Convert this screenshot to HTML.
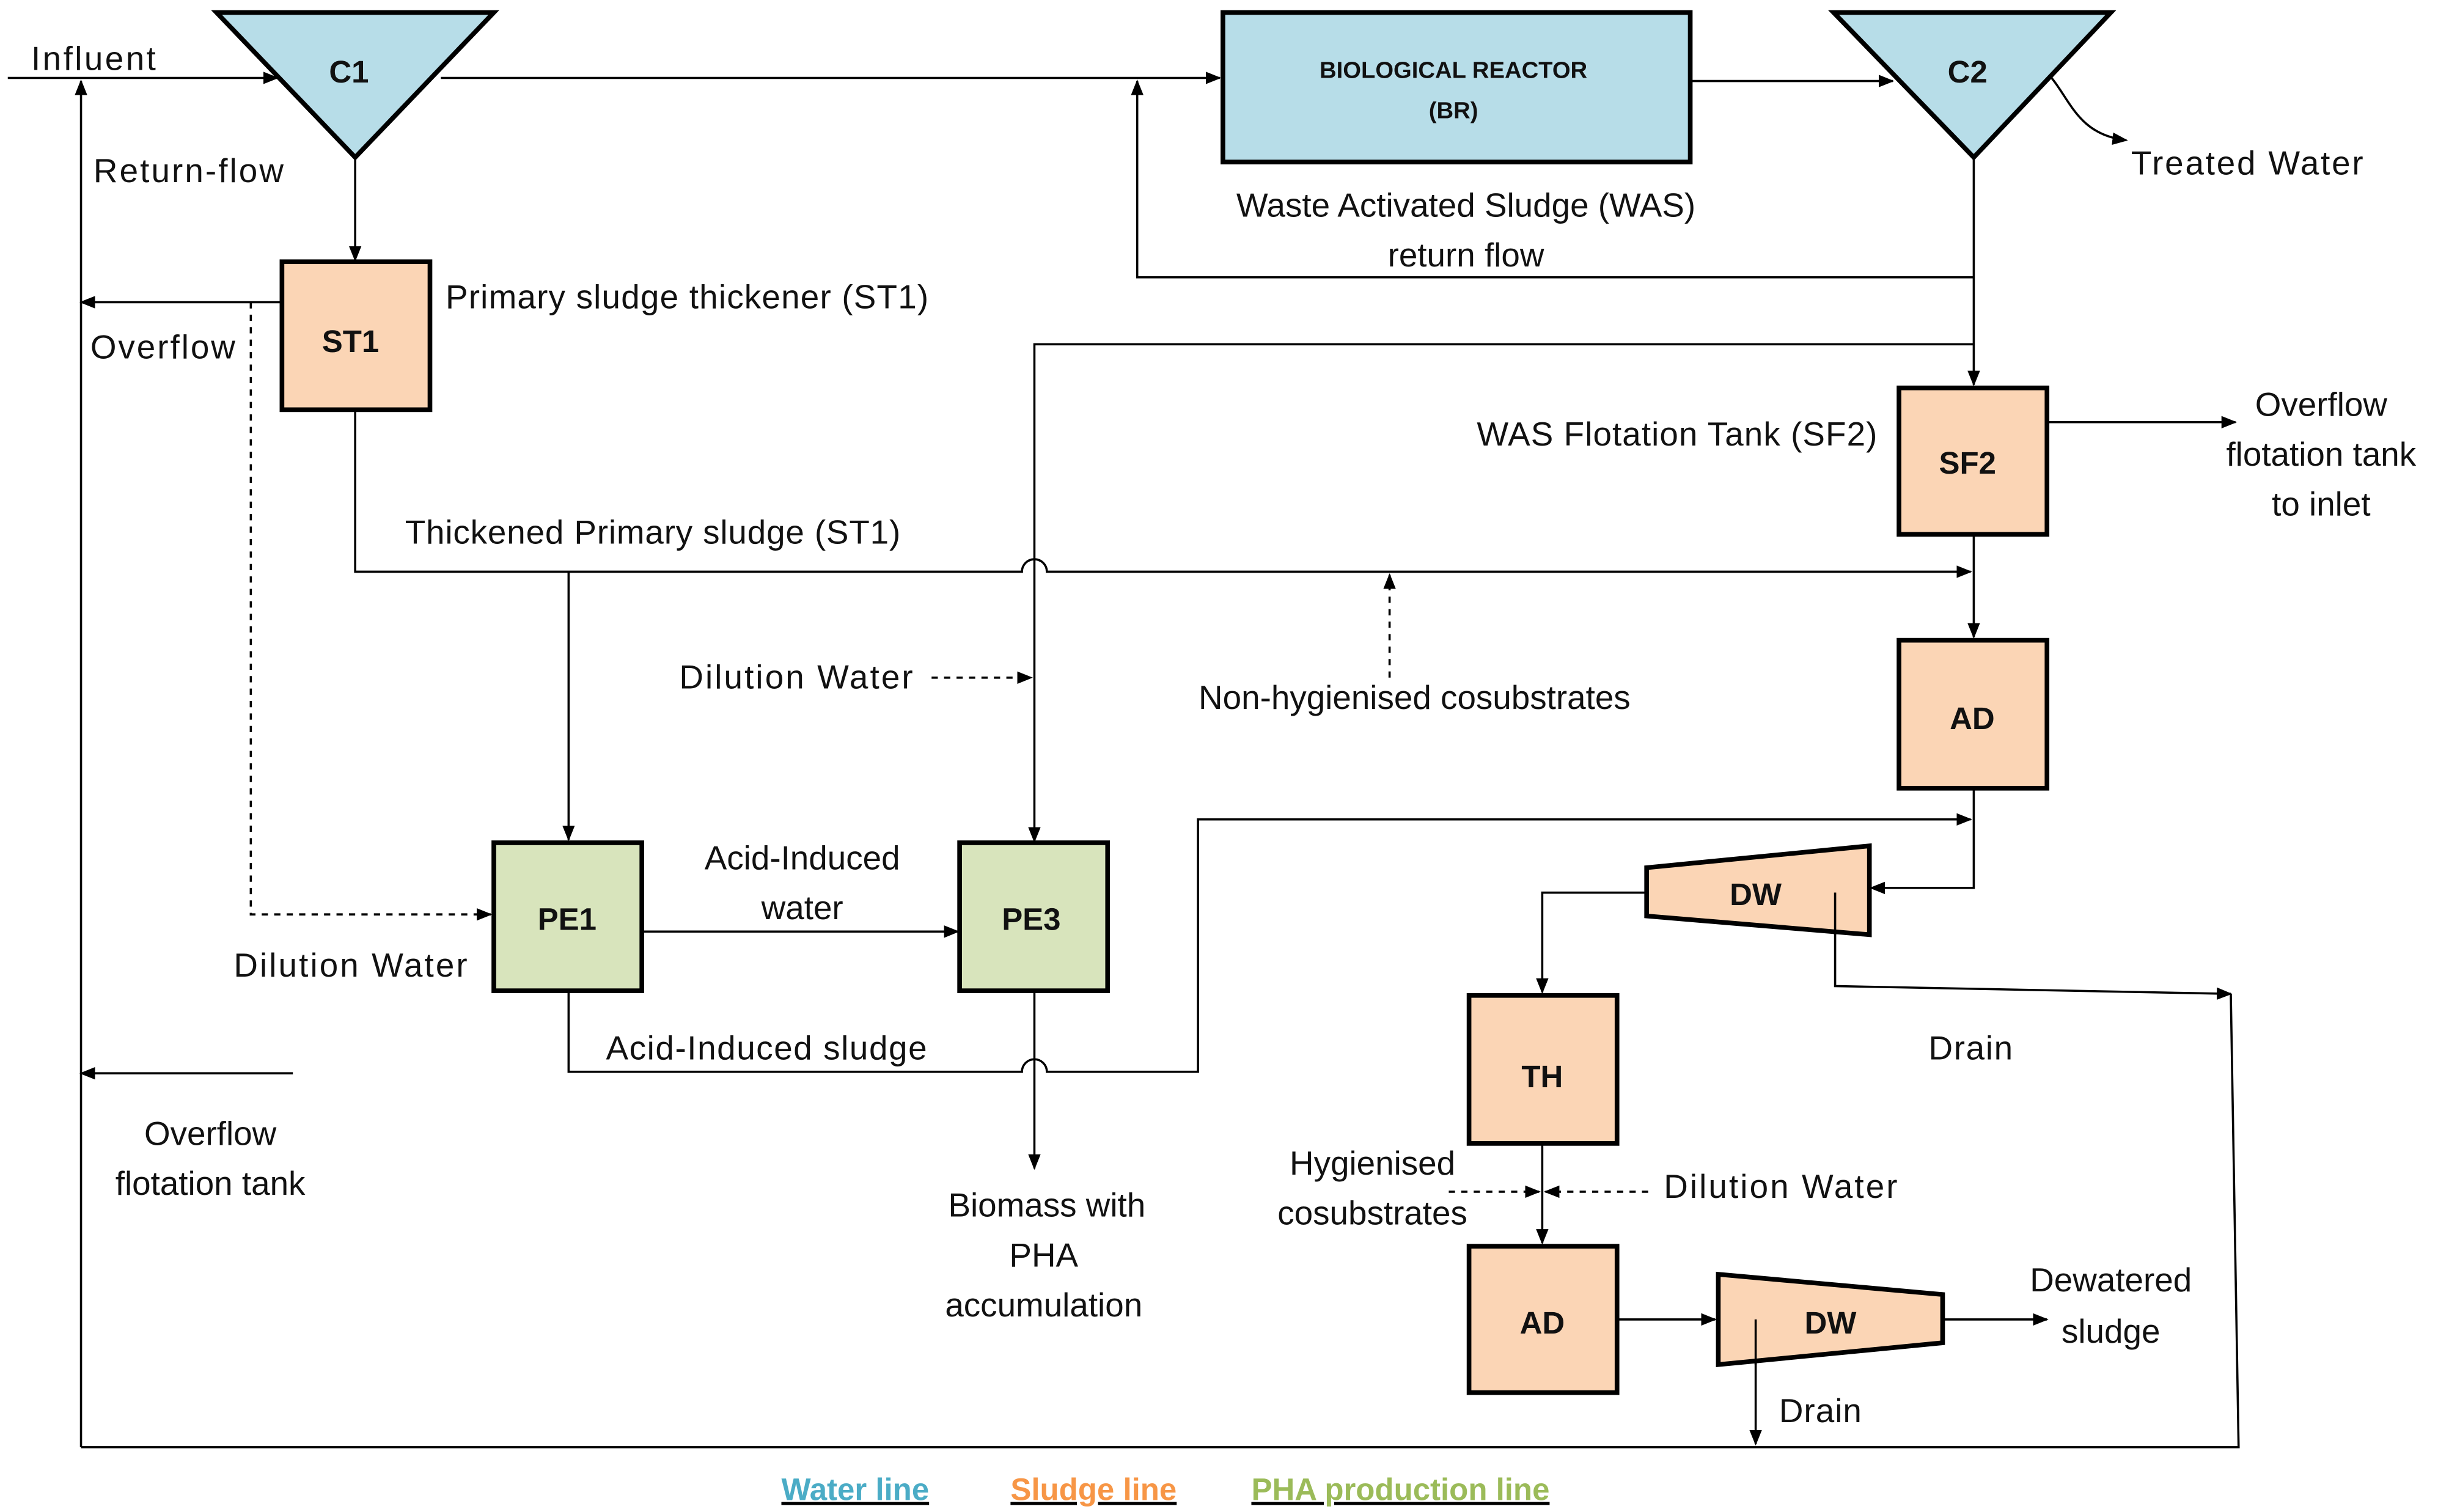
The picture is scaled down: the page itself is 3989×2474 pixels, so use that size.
<!DOCTYPE html>
<html><head><meta charset="utf-8"><style>html,body{margin:0;padding:0;background:#fff}svg{display:block}</style></head>
<body>
<svg width="3989" height="2474" viewBox="0 0 1565 970.6" xmlns="http://www.w3.org/2000/svg" font-family="Liberation Sans, sans-serif">
<defs>
<marker id="a" markerWidth="10" markerHeight="8" refX="9" refY="4" orient="auto" markerUnits="userSpaceOnUse"><path d="M0,0 L10,4 L0,8 Z" fill="#000"/></marker>
</defs>
<g fill="none" stroke="#000" stroke-width="1.4">
<line x1="5" y1="50" x2="178" y2="50" marker-end="url(#a)"/>
<line x1="283" y1="50" x2="783" y2="50" marker-end="url(#a)"/>
<line x1="1085" y1="52" x2="1215" y2="52" marker-end="url(#a)"/>
<path d="M1290,35 C1330,40 1320,85 1365,90" marker-end="url(#a)"/>
<line x1="1267" y1="101" x2="1267" y2="247" marker-end="url(#a)"/>
<path d="M1267,178 H730 V52" marker-end="url(#a)"/>
<path d="M1267,221 H664 V540" marker-end="url(#a)"/>
<line x1="228" y1="101" x2="228" y2="167" marker-end="url(#a)"/>
<line x1="205" y1="194" x2="52" y2="194" marker-end="url(#a)"/>
<path d="M52,929 V52" marker-end="url(#a)"/>
<path d="M161,194 V587 H315" stroke-dasharray="4,4" marker-end="url(#a)"/>
<path d="M228,263 V367 H656 A8,8 0 0 1 672,367 H1265" marker-end="url(#a)"/>
<line x1="365" y1="367" x2="365" y2="539" marker-end="url(#a)"/>
<line x1="412" y1="598" x2="615" y2="598" marker-end="url(#a)"/>
<line x1="598" y1="435" x2="662" y2="435" stroke-dasharray="4,4" marker-end="url(#a)"/>
<line x1="892" y1="435" x2="892" y2="369" stroke-dasharray="4,4" marker-end="url(#a)"/>
<path d="M365,636 V688 H656 A8,8 0 0 1 672,688 H769 V526 H1265" marker-end="url(#a)"/>
<line x1="664" y1="636" x2="664" y2="750" marker-end="url(#a)"/>
<line x1="1297" y1="271" x2="1435" y2="271" marker-end="url(#a)"/>
<line x1="1267" y1="343" x2="1267" y2="409" marker-end="url(#a)"/>
<path d="M1267,506 V570 H1201" marker-end="url(#a)"/>
<path d="M1057,573 H990 V637" marker-end="url(#a)"/>
<path d="M1178,573 V633 L1432,638" marker-end="url(#a)"/>
<path d="M1432,638 L1437,929 H52"/>
<line x1="990" y1="734" x2="990" y2="798" marker-end="url(#a)"/>
<line x1="930" y1="765" x2="988" y2="765" stroke-dasharray="4,4" marker-end="url(#a)"/>
<line x1="1058" y1="765" x2="992" y2="765" stroke-dasharray="4,4" marker-end="url(#a)"/>
<line x1="1038" y1="847" x2="1101" y2="847" marker-end="url(#a)"/>
<line x1="1247" y1="847" x2="1314" y2="847" marker-end="url(#a)"/>
<line x1="1127" y1="847" x2="1127" y2="927" marker-end="url(#a)"/>
<line x1="188" y1="689" x2="52" y2="689" marker-end="url(#a)"/>
</g>
<g stroke="#000" stroke-width="3">
<polygon points="139,8 317,8 228,101" fill="#b7dde8"/>
<polygon points="1177,8 1355,8 1267,101" fill="#b7dde8"/>
<rect x="785" y="8" width="300" height="96" fill="#b7dde8"/>
<rect x="181" y="168" width="95" height="95" fill="#fbd5b5"/>
<rect x="1219" y="249" width="95" height="94" fill="#fbd5b5"/>
<rect x="1219" y="411" width="95" height="95" fill="#fbd5b5"/>
<rect x="317" y="541" width="95" height="95" fill="#d8e4bc"/>
<rect x="616" y="541" width="95" height="95" fill="#d8e4bc"/>
<rect x="943" y="639" width="95" height="95" fill="#fbd5b5"/>
<rect x="943" y="800" width="95" height="94" fill="#fbd5b5"/>
<polygon points="1057,557 1200,543 1200,600 1057,588" fill="#fbd5b5"/>
<polygon points="1103,818 1247,831 1247,862 1103,876" fill="#fbd5b5"/>
</g>
<line x1="1178" y1="573" x2="1178" y2="600" stroke="#000" stroke-width="1.4"/>
<line x1="1127" y1="847" x2="1127" y2="876" stroke="#000" stroke-width="1.4"/>
<g font-weight="bold" font-size="20" text-anchor="middle" fill="#111">
<text x="224" y="53">C1</text><text x="1263" y="53">C2</text>
<text x="225" y="226">ST1</text><text x="1263" y="304">SF2</text>
<text x="1266" y="468">AD</text><text x="364" y="597">PE1</text>
<text x="662" y="597">PE3</text><text x="990" y="698">TH</text>
<text x="990" y="856">AD</text><text x="1127" y="581">DW</text><text x="1175" y="856">DW</text>
<text x="933" y="50" font-size="15">BIOLOGICAL REACTOR</text><text x="933" y="76" font-size="15">(BR)</text>
</g>
<g font-size="21.5" fill="#111">
<text x="20" y="45" textLength="80">Influent</text>
<text x="60" y="117" textLength="122">Return-flow</text>
<text x="58" y="230" textLength="93">Overflow</text>
<text x="286" y="198" textLength="310">Primary sludge thickener (ST1)</text>
<text x="260" y="349" textLength="318">Thickened Primary sludge (ST1)</text>
<text x="436" y="442" textLength="150">Dilution Water</text>
<text x="150" y="627" textLength="150">Dilution Water</text>
<text x="389" y="680" textLength="206">Acid-Induced sludge</text>
<text x="1068" y="769" textLength="150">Dilution Water</text>
<text x="1368" y="112" textLength="149">Treated Water</text>
<text x="1142" y="913" textLength="53">Drain</text>
<text x="1238" y="680" textLength="54">Drain</text>
<text x="948" y="286" textLength="257">WAS Flotation Tank (SF2)</text>
<g text-anchor="middle">
<text x="941" y="139">Waste Activated Sludge (WAS)</text><text x="941" y="171">return flow</text>
<text x="908" y="455">Non-hygienised cosubstrates</text>
<text x="515" y="558">Acid-Induced</text><text x="515" y="590">water</text>
<text x="672" y="781">Biomass with</text><text x="670" y="813">PHA</text><text x="670" y="845">accumulation</text>
<text x="1490" y="267">Overflow</text><text x="1490" y="299">flotation tank</text><text x="1490" y="331">to inlet</text>
<text x="881" y="754">Hygienised</text><text x="881" y="786">cosubstrates</text>
<text x="1355" y="829">Dewatered</text><text x="1355" y="862">sludge</text>
<text x="135" y="735">Overflow</text><text x="135" y="767">flotation tank</text>
</g>
</g>
<g font-size="20" font-weight="bold" text-decoration="underline" text-anchor="middle">
<text x="549" y="963" fill="#4bacc6">Water line</text>
<text x="702" y="963" fill="#f79646">Sludge line</text>
<text x="899" y="963" fill="#9bbb59">PHA production line</text>
</g>
</svg>
</body></html>
